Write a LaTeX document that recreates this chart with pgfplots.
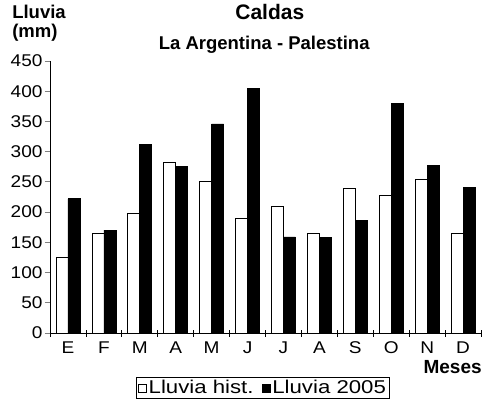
\documentclass[border=0pt]{standalone}
\usepackage{fontspec}
\setmainfont{Liberation Sans}
\newfontfamily\legfont[FakeStretch=1.2]{Liberation Sans}
\newfontfamily\tickfont[FakeStretch=1.12]{Liberation Sans}
\usepackage{pgfplots}
\pgfplotsset{compat=1.18}

\begin{document}
\begin{tikzpicture}
\begin{axis}[
	at={(0,0)}, anchor=south west,
	width=431pt, height=272pt, scale only axis,
	axis lines*=left,
	axis line style={line width=0.8pt},
	clip=false,
	ymin=0, ymax=450,
	ytick={0,50,...,450},
	xmin=-0.5, xmax=11.5,
	xtick={0,...,11},
	xticklabels={E,F,M,A,M,J,J,A,S,O,N,D},
	xtick style={draw=none},
	ytick style={line width=0.8pt},
	tick align=outside,
	major tick length=5pt,
	extra x ticks={-0.5,0.5,...,11.5},
	extra x tick labels=\empty,
	extra x tick style={
		tick align=center,
		xtick style={draw=black, line width=0.8pt, /pgfplots/major tick length=7pt},
	},
	tick label style={font=\tickfont\fontsize{17}{19}\selectfont},
	yticklabel style={xshift=1pt},
	/pgf/number format/assume math mode=true,
	ybar=0pt,
	bar width=12pt,
	legend columns=2,
	legend style={at={(0.494,-0.202)}, anchor=center,
		font=\legfont\fontsize{18.5}{20}\selectfont,
		draw=black, line width=0.8pt, inner sep=1pt,
		/tikz/every even column/.append style={column sep=6pt}},
	legend image code/.code={\draw[#1, line width=0.8pt] (0pt,-4pt) rectangle (8pt,4pt);},
]
% Lluvia historica
\addplot[draw=black, fill=white, line width=0.7pt] coordinates {
	(0,125) (1,165) (2,198) (3,282) (4,251) (5,190)
	(6,210) (7,165) (8,239) (9,228) (10,255) (11,165)};
% Lluvia 2005
\addplot[draw=black, fill=black, line width=0.7pt] coordinates {
	(0,222) (1,170) (2,312) (3,276) (4,346) (5,404)
	(6,159) (7,158) (8,186) (9,380) (10,277) (11,241)};
\legend{Lluvia hist.,Lluvia 2005}

\node[font=\bfseries\fontsize{21}{24}\selectfont] at (rel axis cs:0.51,1.18) {Caldas};
\node[font=\bfseries\fontsize{18.5}{21}\selectfont] at (rel axis cs:0.497,1.059) {La Argentina - Palestina};
\node[anchor=west, font=\bfseries\fontsize{18.5}{21}\selectfont, inner sep=0pt] at (rel axis cs:-0.088,1.18) {Lluvia};
\node[anchor=west, font=\bfseries\fontsize{18.5}{21}\selectfont, inner sep=0pt] at (rel axis cs:-0.088,1.103) {(mm)};
\node[anchor=east, font=\bfseries\fontsize{19}{21}\selectfont, inner sep=0pt] at (rel axis cs:1.002,-0.125) {Meses};
\end{axis}
\pgfresetboundingbox
\path[use as bounding box] (-50pt,-76pt) rectangle (436pt,333pt);
\end{tikzpicture}
\end{document}
